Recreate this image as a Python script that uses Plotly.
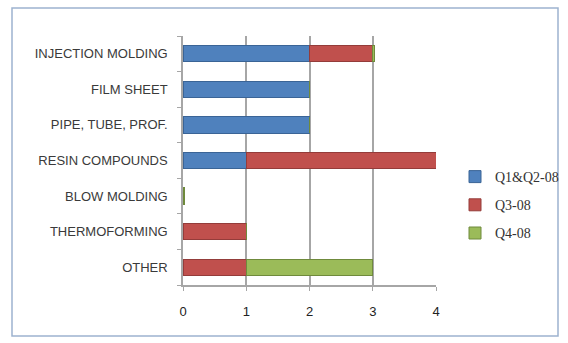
import plotly.graph_objects as go

categories = ["INJECTION MOLDING", "FILM SHEET", "PIPE, TUBE, PROF.", "RESIN COMPOUNDS",
              "BLOW MOLDING", "THERMOFORMING", "OTHER"]
q12 = [2, 2, 2, 1, 0, 0, 0]
q3 = [1, 0, 0, 3, 0, 1, 1]
q4 = [0.02, 0, 0, 0.02, 0.03, 0, 2]
series_names = ["Q1&Q2-08", "Q3-08", "Q4-08"]
colors = ["#4F81BD", "#C0504D", "#9BBB59"]
edges = ["#3A6496", "#943C3A", "#6F8A3C"]
x_ticks = [0, 1, 2, 3, 4]

W, H = 568, 343
L, R, T, B = 183, 436, 36, 285

fig = go.Figure()
for i, (name, vals) in enumerate(zip(series_names, [q12, q3, q4])):
    fig.add_trace(go.Bar(
        y=categories, x=vals, name=name, orientation="h",
        marker=dict(color=colors[i], line=dict(color=edges[i], width=1)),
        width=0.46, legendgroup=name,
    ))

def px(x):
    return (x - L) / (R - L)

def py(y):
    return (B - y) / (B - T)

fig.update_layout(
    width=W, height=H,
    margin=dict(l=L, r=W - R, t=T, b=H - B, autoexpand=False),
    barmode="stack",
    plot_bgcolor="white", paper_bgcolor="white",
    font=dict(family="Liberation Sans", color="#404040"),
    xaxis=dict(range=[0, 4], tickvals=x_ticks, showgrid=True, gridcolor="#A6A6A6", gridwidth=1.5,
               showline=True, linecolor="#A6A6A6", linewidth=1.5, ticks="outside",
               tickcolor="#A6A6A6", ticklen=4, tickfont=dict(size=13, color="#222"),
               ticklabelstandoff=10, zeroline=False, automargin=False),
    yaxis=dict(categoryorder="array", categoryarray=categories[::-1],
               showline=True, linecolor="#A6A6A6", linewidth=1.5,
               ticks="outside", tickson="boundaries", tickcolor="#A6A6A6", ticklen=4,
               tickfont=dict(size=13, color="#3a3a3a"), ticklabelstandoff=11,
               showgrid=False, automargin=False),
    legend=dict(x=px(455), y=py(161), xanchor="left", yanchor="top",
                font=dict(family="Liberation Serif", size=14, color="#333"),
                tracegroupgap=7, itemwidth=30, bgcolor="rgba(0,0,0,0)"),
    shapes=[dict(type="rect", xref="paper", yref="paper",
                 x0=px(12), x1=px(558), y0=py(336), y1=py(8),
                 line=dict(color="#9DB3CF", width=1.5), layer="below")],
)

fig.write_html("out.html")
